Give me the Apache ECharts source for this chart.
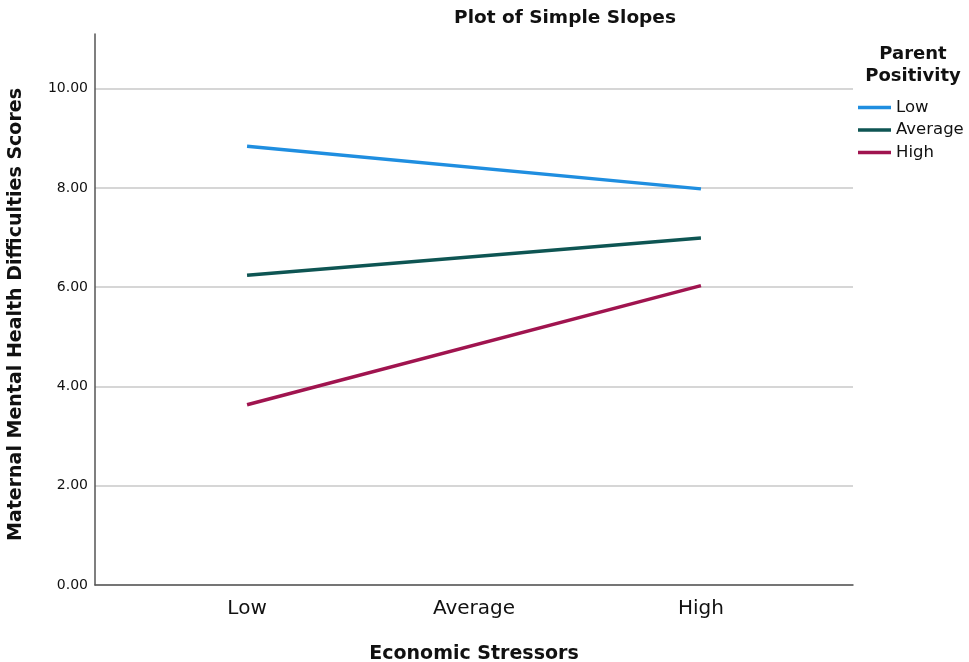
<!DOCTYPE html>
<html>
<head>
<meta charset="utf-8">
<script src="https://cdn.jsdelivr.net/npm/echarts@6/dist/echarts.min.js"></script>
<style>
  html, body { margin: 0; padding: 0; background: #fff; }
  #chart { width: 969px; height: 662px; }
</style>
</head>
<body>
<div id="chart"></div>
<script>
// economic stressor levels on the x axis (values are their positions 1..3)
var stressorLevels = ['Low', 'Average', 'High'];
var stressorPos = [1, 3];          // simple slopes drawn at Low and High

// parent positivity groups
var positivityGroups = ['Low', 'Average', 'High'];
var lowPositivity = [8.84, 7.98];
var averagePositivity = [6.24, 6.99];
var highPositivity = [3.63, 6.03];

var yTicks = [0, 2, 4, 6, 8, 10];

var font = 'DejaVu Sans';
var colors = ['#1f8ee0', '#0e5553', '#a0144f'];

function pairs(vals) {
  return stressorPos.map(function (x, i) { return [x, vals[i]]; });
}

var myChart = echarts.init(document.getElementById('chart'));
var option = {
  color: colors,
  animation: false,
  textStyle: { fontFamily: font },
  title: [{
    text: 'Plot of Simple Slopes',
    left: 560,
    textAlign: 'center',
    top: 4,
    textStyle: { fontFamily: font, fontSize: 18.5, fontWeight: 'bold', color: '#111' }
  }, {
    text: 'Parent\nPositivity',
    left: 908,
    textAlign: 'center',
    top: 38,
    textStyle: { fontFamily: font, fontSize: 18, fontWeight: 'bold', color: '#111', lineHeight: 22 }
  }],
  legend: {
    orient: 'vertical',
    left: 858,
    top: 99,
    padding: 0,
    icon: 'rect',
    itemWidth: 33,
    itemHeight: 3.5,
    itemGap: 5.5,
    data: positivityGroups,
    textStyle: { fontFamily: font, fontSize: 16.5, color: '#111' }
  },
  grid: { left: 95, right: 116, top: 34, bottom: 77, outerBoundsMode: 'none' },
  xAxis: {
    type: 'value',
    min: 0.33,
    max: 3.67,
    name: 'Economic Stressors',
    nameLocation: 'middle',
    nameGap: 60,
    nameTextStyle: { fontFamily: font, fontSize: 19, fontWeight: 'bold', color: '#111' },
    axisLine: { show: true, lineStyle: { color: '#555', width: 1.5 } },
    axisTick: { show: false },
    splitLine: { show: false },
    axisLabel: {
      customValues: [1, 2, 3],
      formatter: function (v) { return stressorLevels[Math.round(v) - 1]; },
      fontFamily: font, fontSize: 20, color: '#111', margin: 14
    }
  },
  yAxis: {
    type: 'value',
    min: 0,
    max: 11.1,
    interval: 2,
    name: 'Maternal Mental Health Difficulties Scores',
    nameLocation: 'middle',
    nameGap: 69,
    nameTextStyle: { fontFamily: font, fontSize: 19, fontWeight: 'bold', color: '#111', padding: [0, 10, 0, 0] },
    axisLine: { show: true, lineStyle: { color: '#555', width: 1.5 } },
    axisTick: { show: false },
    splitLine: { show: true, showMaxLine: false, lineStyle: { color: '#c8c8c8', width: 1.5 } },
    axisLabel: {
      customValues: yTicks,
      formatter: function (v) { return v.toFixed(2); },
      fontFamily: font, fontSize: 14, color: '#111', margin: 7
    }
  },
  series: [
    { name: positivityGroups[0], type: 'line', data: pairs(lowPositivity), showSymbol: false, lineStyle: { width: 3.5 } },
    { name: positivityGroups[1], type: 'line', data: pairs(averagePositivity), showSymbol: false, lineStyle: { width: 3.5 } },
    { name: positivityGroups[2], type: 'line', data: pairs(highPositivity), showSymbol: false, lineStyle: { width: 3.5 } }
  ]
};
myChart.setOption(option);
</script>
</body>
</html>
